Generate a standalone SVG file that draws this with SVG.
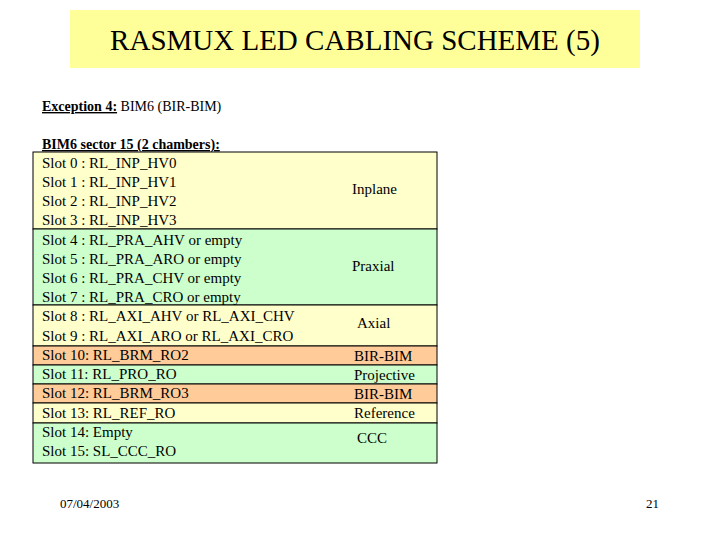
<svg xmlns="http://www.w3.org/2000/svg" width="720" height="540" viewBox="0 0 720 540">
<style>
text{font-family:"Liberation Serif",serif;fill:#000}
.t{font-size:15px}
.r{stroke:#000;stroke-width:1}
</style>
<rect width="720" height="540" fill="#fff"/>
<g id="title"><rect x="70" y="10" width="570" height="58" fill="#ffff99"/>
<text x="355" y="50" font-size="29" text-anchor="middle">RASMUX LED CABLING SCHEME (5)</text></g>
<g id="exception"><text x="42" y="111" font-size="14"><tspan font-weight="bold" text-decoration="underline">Exception 4:</tspan> BIM6 (BIR-BIM)</text></g>
<g id="rows">
<rect class="r" x="33" y="152" width="404" height="77" fill="#ffffcc"/>
<rect class="r" x="33" y="229" width="404" height="76" fill="#ccffcc"/>
<rect class="r" x="33" y="305" width="404" height="41" fill="#ffffcc"/>
<rect class="r" x="33" y="346" width="404" height="19" fill="#ffcc99"/>
<rect class="r" x="33" y="365" width="404" height="19" fill="#ccffcc"/>
<rect class="r" x="33" y="384" width="404" height="19" fill="#ffcc99"/>
<rect class="r" x="33" y="403" width="404" height="20" fill="#ffffcc"/>
<rect class="r" x="33" y="423" width="404" height="40" fill="#ccffcc"/>
</g>
<g id="text" class="t">
<text x="42" y="149" font-weight="bold" text-decoration="underline" font-size="14">BIM6 sector 15 (2 chambers):</text>
<text x="42" y="168">Slot 0 :  RL_INP_HV0</text>
<text x="42" y="187">Slot 1 :  RL_INP_HV1</text>
<text x="42" y="206">Slot 2 :  RL_INP_HV2</text>
<text x="42" y="225">Slot 3 :  RL_INP_HV3</text>
<text x="42" y="245">Slot 4 :  RL_PRA_AHV or empty</text>
<text x="42" y="264">Slot 5 :  RL_PRA_ARO or empty</text>
<text x="42" y="283">Slot 6 :  RL_PRA_CHV or empty</text>
<text x="42" y="302">Slot 7 :  RL_PRA_CRO or empty</text>
<text x="42" y="321">Slot 8 :  RL_AXI_AHV or RL_AXI_CHV</text>
<text x="42" y="341">Slot 9 :  RL_AXI_ARO or RL_AXI_CRO</text>
<text x="42" y="360">Slot 10: RL_BRM_RO2</text>
<text x="42" y="379">Slot 11: RL_PRO_RO</text>
<text x="42" y="398">Slot 12: RL_BRM_RO3</text>
<text x="42" y="418">Slot 13: RL_REF_RO</text>
<text x="42" y="437">Slot 14: Empty</text>
<text x="42" y="456">Slot 15: SL_CCC_RO</text>
<text x="352" y="194">Inplane</text>
<text x="352" y="271">Praxial</text>
<text x="357" y="328">Axial</text>
<text x="354" y="361">BIR-BIM</text>
<text x="354" y="380">Projective</text>
<text x="354" y="399">BIR-BIM</text>
<text x="354" y="418">Reference</text>
<text x="357" y="443">CCC</text>
</g>
<g id="footer"><text x="60" y="508" font-size="13" font-family="'Liberation Sans',sans-serif">07/04/2003</text>
<text x="659" y="508" font-size="13" text-anchor="end" font-family="'Liberation Sans',sans-serif">21</text></g>
</svg>
